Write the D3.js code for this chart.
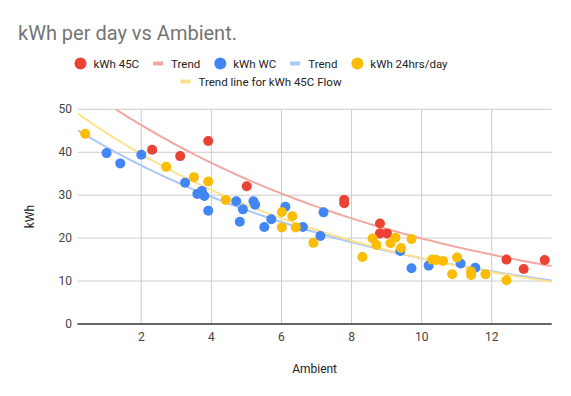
<!DOCTYPE html>
<html>
<head>
<meta charset="utf-8">
<script src="https://cdn.jsdelivr.net/npm/d3@7/dist/d3.min.js"></script>
<style>
  body { margin: 0; background: #fff; }
  svg { font-family: Roboto, Arial, sans-serif; }
</style>
</head>
<body>
<svg id="chart" width="571" height="396"></svg>
<script>
// values
var red45C = [
  [2.31, 40.6], [3.11, 39.1], [3.91, 42.6], [5.01, 32.1], [7.79, 28.9], [7.79, 28.1],
  [8.81, 23.4], [8.81, 21.1], [9.01, 21.1], [12.42, 15.0], [12.91, 12.8], [13.51, 14.9]
];
var blueWC = [
  [1.01, 39.8], [1.40, 37.4], [2.0, 39.4], [3.25, 32.9], [3.6, 30.3], [3.73, 31.0],
  [3.80, 29.8], [3.91, 26.4], [4.71, 28.6], [4.81, 23.8], [4.90, 26.7], [5.2, 28.6],
  [5.25, 27.8], [5.51, 22.6], [5.71, 24.4], [6.11, 27.3], [6.61, 22.6], [7.11, 20.5],
  [7.2, 26.0], [9.39, 17.0], [9.71, 13.0], [10.2, 13.6], [11.11, 14.1], [11.53, 13.1]
];
var yellow24h = [
  [0.40, 44.3], [2.71, 36.6], [3.50, 34.2], [3.91, 33.2], [4.41, 28.9], [6.01, 26.1],
  [6.31, 25.1], [6.01, 22.5], [6.41, 22.5], [6.91, 18.9], [8.31, 15.6], [8.6, 19.9],
  [8.71, 18.4], [9.11, 18.8], [9.25, 20.1], [9.41, 17.7], [9.71, 19.8], [10.3, 15.0],
  [10.42, 14.9], [10.61, 14.7], [10.87, 11.6], [11.01, 15.5], [11.41, 12.2], [11.41, 11.4],
  [11.82, 11.6], [12.42, 10.2]
];
var xTicks = [2, 4, 6, 8, 10, 12];
var yTicks = [0, 10, 20, 30, 40, 50];

var svg = d3.select("#chart");

var x = d3.scaleLinear().domain([0.18, 13.71]).range([77.5, 551.7]);
var y = d3.scaleLinear().domain([0, 50]).range([324, 109.3]);

// exponential trendline, least squares on ln(y)
function expFit(pts) {
  var n = pts.length, sx = 0, sy = 0, sxx = 0, sxy = 0;
  pts.forEach(function(p) {
    var ly = Math.log(p[1]);
    sx += p[0]; sy += ly; sxx += p[0] * p[0]; sxy += p[0] * ly;
  });
  var b = (n * sxy - sx * sy) / (n * sxx - sx * sx);
  var a = Math.exp((sy - b * sx) / n);
  return function(v) { return a * Math.exp(b * v); };
}

var series = [
  { name: "kWh 45C", trend: "Trend", data: red45C, color: "#ea4335", light: "#f2a8a2" },
  { name: "kWh WC", trend: "Trend", data: blueWC, color: "#4285f4", light: "#abc7f8" },
  { name: "kWh 24hrs/day", trend: "Trend line for kWh 45C Flow", data: yellow24h, color: "#fbbc04", light: "#fde28e" }
];

svg.append("text")
  .attr("x", 18).attr("y", 39.5)
  .attr("font-size", 20).attr("fill", "#757575")
  .text("kWh per day vs Ambient.");

// grid
var grid = svg.append("g");
grid.selectAll(".gy").data(yTicks.filter(function(d) { return d > 0; })).enter().append("line")
  .attr("x1", 77.5).attr("x2", 551.7)
  .attr("y1", function(d) { return y(d); }).attr("y2", function(d) { return y(d); })
  .attr("stroke", "#cccccc").attr("stroke-width", 1);
grid.selectAll(".gx").data(xTicks).enter().append("line")
  .attr("y1", 109.3).attr("y2", 324)
  .attr("x1", function(d) { return x(d); }).attr("x2", function(d) { return x(d); })
  .attr("stroke", "#cccccc").attr("stroke-width", 1);

// axes labels
svg.append("g").selectAll("text").data(yTicks).enter().append("text")
  .attr("x", 72).attr("y", function(d) { return y(d) + 4; })
  .attr("text-anchor", "end").attr("font-size", 12).attr("fill", "#444")
  .text(function(d) { return d; });
svg.append("g").selectAll("text").data(xTicks).enter().append("text")
  .attr("x", function(d) { return x(d); }).attr("y", 341)
  .attr("text-anchor", "middle").attr("font-size", 12).attr("fill", "#444")
  .text(function(d) { return d; });

svg.append("text")
  .attr("x", 314.6).attr("y", 373)
  .attr("text-anchor", "middle").attr("font-size", 12).attr("fill", "#222")
  .text("Ambient");
svg.append("text")
  .attr("transform", "translate(34,216.6) rotate(-90)")
  .attr("text-anchor", "middle").attr("font-size", 12).attr("fill", "#222")
  .text("kWh");

// trendlines
svg.append("clipPath").attr("id", "plot")
  .append("rect").attr("x", 77.5).attr("y", 109.3).attr("width", 474.2).attr("height", 214.7);

var xs = d3.range(0, 101).map(function(i) { return 0.18 + (13.71 - 0.18) * i / 100; });
var line = d3.line().x(function(d) { return x(d[0]); }).y(function(d) { return y(d[1]); });

series.forEach(function(s) {
  var f = expFit(s.data);
  svg.append("path")
    .attr("clip-path", "url(#plot)")
    .attr("d", line(xs.map(function(v) { return [v, f(v)]; })))
    .attr("fill", "none").attr("stroke", s.light).attr("stroke-width", 2);
});

// baseline
svg.append("line")
  .attr("x1", 77.5).attr("x2", 551.7).attr("y1", y(0)).attr("y2", y(0))
  .attr("stroke", "#333").attr("stroke-width", 1.3);

// points
series.forEach(function(s) {
  svg.append("g").selectAll("circle").data(s.data).enter().append("circle")
    .attr("cx", function(d) { return x(d[0]); })
    .attr("cy", function(d) { return y(d[1]); })
    .attr("r", 5)
    .attr("fill", s.color);
});

// legend
var legendItems = [];
series.forEach(function(s) {
  legendItems.push({ kind: "dot", color: s.color, label: s.name });
  legendItems.push({ kind: "bar", color: s.light, label: s.trend });
});
var rows = [legendItems.slice(0, 5), legendItems.slice(5)];
var rowY = [63.5, 81.5];
var center = 261;

rows.forEach(function(items, ri) {
  var g = svg.append("g");
  var cursor = 0;
  items.forEach(function(it) {
    var sym = it.kind === "dot" ? 12 : 10;
    var gap = it.kind === "dot" ? 7 : 8;
    if (it.kind === "dot") {
      g.append("circle").attr("cx", cursor + 6).attr("cy", rowY[ri]).attr("r", 6).attr("fill", it.color);
    } else {
      g.append("rect").attr("x", cursor).attr("y", rowY[ri] - 2).attr("width", 10).attr("height", 4).attr("fill", it.color);
    }
    var t = g.append("text")
      .attr("x", cursor + sym + gap).attr("y", rowY[ri] + 4.2)
      .attr("font-size", 11.5).attr("fill", "#222")
      .text(it.label);
    cursor += sym + gap + t.node().getComputedTextLength() + 14;
  });
  var w = cursor - 14;
  g.attr("transform", "translate(" + (center - w / 2) + ",0)");
});
</script>
</body>
</html>
